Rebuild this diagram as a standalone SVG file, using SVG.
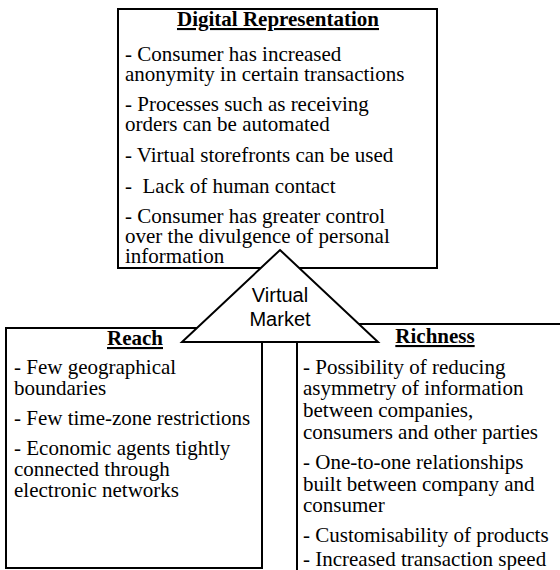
<svg xmlns="http://www.w3.org/2000/svg" width="560" height="570" viewBox="0 0 560 570">
<style>
  .box { fill: #fff; stroke: #000; stroke-width: 2; }
  .t { font-family: "Liberation Serif", "Times New Roman", serif; font-size: 21px; fill: #000; }
  .h { font-family: "Liberation Serif", "Times New Roman", serif; font-size: 21px; font-weight: bold; fill: #000; text-anchor: middle; text-decoration: underline; }
  .s { font-family: "Liberation Sans", Arial, sans-serif; font-size: 20px; fill: #000; text-anchor: middle; }
</style>
<rect width="560" height="570" fill="#fff"/>
<g id="digital-representation">
  <rect class="box" x="118" y="9" width="319" height="259"/>
  <text class="h" x="278" y="26">Digital Representation</text>
  <text class="t" x="125" y="61">- Consumer has increased</text>
  <text class="t" x="125" y="81">anonymity in certain transactions</text>
  <text class="t" x="125" y="111">- Processes such as receiving</text>
  <text class="t" x="125" y="131">orders can be automated</text>
  <text class="t" x="125" y="162">- Virtual storefronts can be used</text>
  <text class="t" x="125" y="193" xml:space="preserve">-  Lack of human contact</text>
  <text class="t" x="125" y="223">- Consumer has greater control</text>
  <text class="t" x="125" y="243">over the divulgence of personal</text>
  <text class="t" x="125" y="263">information</text>
</g>
<g id="reach">
  <rect class="box" x="6" y="328" width="256" height="240"/>
  <text class="h" x="135" y="345">Reach</text>
  <text class="t" x="14" y="374">- Few geographical</text>
  <text class="t" x="14" y="395">boundaries</text>
  <text class="t" x="14" y="425">- Few time-zone restrictions</text>
  <text class="t" x="14" y="455">- Economic agents tightly</text>
  <text class="t" x="14" y="476">connected through</text>
  <text class="t" x="14" y="497">electronic networks</text>
</g>
<g id="richness">
  <path class="box" d="M560,324 H297 V572"/>
  <text class="h" x="435" y="343">Richness</text>
  <text class="t" x="303" y="374">- Possibility of reducing</text>
  <text class="t" x="303" y="395">asymmetry of information</text>
  <text class="t" x="303" y="417">between companies,</text>
  <text class="t" x="303" y="439">consumers and other parties</text>
  <text class="t" x="303" y="469">- One-to-one relationships</text>
  <text class="t" x="303" y="491">built between company and</text>
  <text class="t" x="303" y="512">consumer</text>
  <text class="t" x="303" y="542">- Customisability of products</text>
  <text class="t" x="303" y="566">- Increased transaction speed</text>
</g>
<g id="virtual-market">
  <polygon class="box" points="280,250 378,342 182,342"/>
  <text class="s" x="280" y="302">Virtual</text>
  <text class="s" x="280" y="326">Market</text>
</g>
</svg>
